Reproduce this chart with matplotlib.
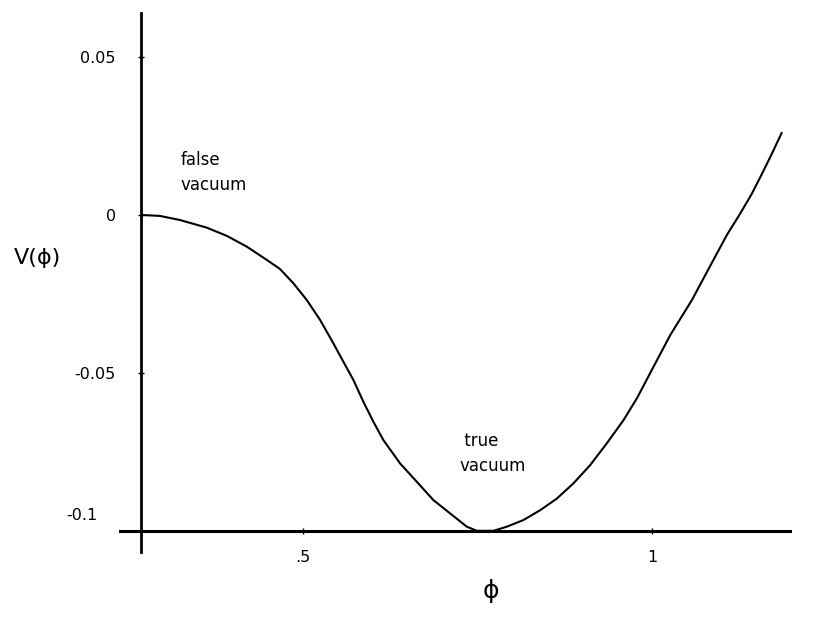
import numpy as np
import matplotlib
matplotlib.use('Agg')
import matplotlib.pyplot as plt

# potential V(phi)
phi = [0.2686, 0.2951, 0.3238, 0.3620, 0.3907, 0.4193, 0.4480, 0.4670, 0.4861, 0.5053,
       0.5244, 0.5434, 0.5577, 0.5721, 0.5864, 0.6007, 0.6150, 0.6390, 0.6629, 0.6867,
       0.7106, 0.7345, 0.7489, 0.7726, 0.7918, 0.8156, 0.8395, 0.8635, 0.8872, 0.9112,
       0.9351, 0.9589, 0.9781, 1.0019, 1.0258, 1.0569, 1.0831, 1.1070, 1.1256, 1.1424,
       1.1567, 1.1710, 1.1853]
V = [0.0, -0.0003, -0.0016, -0.0040, -0.0066, -0.0100, -0.0142, -0.0171, -0.0216, -0.0269,
     -0.0332, -0.0406, -0.0464, -0.0522, -0.0591, -0.0654, -0.0712, -0.0786, -0.0844, -0.0902,
     -0.0944, -0.0986, -0.0999, -0.0999, -0.0986, -0.0965, -0.0934, -0.0897, -0.0849, -0.0791,
     -0.0722, -0.0649, -0.0580, -0.0480, -0.0380, -0.0269, -0.0161, -0.0063, 0.0003, 0.0066,
     0.0128, 0.0192, 0.0259]

xticks = [0.5, 1.0]
xticklabels = ['.5', '1']
yticks = [0.05, 0.0, -0.05, -0.1]
yticklabels = ['0.05', '0', '-0.05', '-0.1']

x_axis_at = -0.1
y_axis_at = 0.2686

fig = plt.figure(figsize=(8.17, 6.19), dpi=100)
ax = fig.add_axes([0, 0, 1, 1])
ax.set_xlim(0.066, 1.236)
ax.set_ylim(-0.1278, 0.068)

ax.plot(phi, V, color='black', lw=1.5, solid_joinstyle='round')

for s in ['top', 'right']:
    ax.spines[s].set_visible(False)
ax.spines['left'].set_position(('data', y_axis_at))
ax.spines['bottom'].set_position(('data', x_axis_at))
ax.spines['left'].set_bounds(-0.1066, 0.064)
ax.spines['bottom'].set_bounds(0.238, 1.198)
ax.spines['left'].set_linewidth(2)
ax.spines['bottom'].set_linewidth(2.2)

ax.set_xticks(xticks)
ax.set_xticklabels(xticklabels)
ax.set_yticks(yticks[:-1])
ax.set_yticklabels(yticklabels[:-1])
ax.tick_params(axis='both', direction='inout', length=5, width=1, labelsize=11.5)
ax.tick_params(axis='y', pad=16)
ax.tick_params(axis='x', pad=11)
# -0.1 label sits by the crossing point, no tick mark there
ax.text(y_axis_at - 0.063, yticks[-1] + 0.0048, yticklabels[-1], fontsize=11.5,
        ha='right', va='center')

ax.text(0.324, 0.0135, 'false\nvacuum', fontsize=12, ha='left', va='center',
        linespacing=1.5)
ax.text(0.724, -0.0755, ' true\nvacuum', fontsize=12, ha='left', va='center',
        linespacing=1.5)

fig.text(0.046, 0.583, 'V(ϕ)', fontsize=16, ha='center', va='center')
fig.text(0.601, 0.045, 'ϕ', fontsize=18, ha='center', va='center')

fig.savefig('out.png', dpi=100, facecolor='white')
